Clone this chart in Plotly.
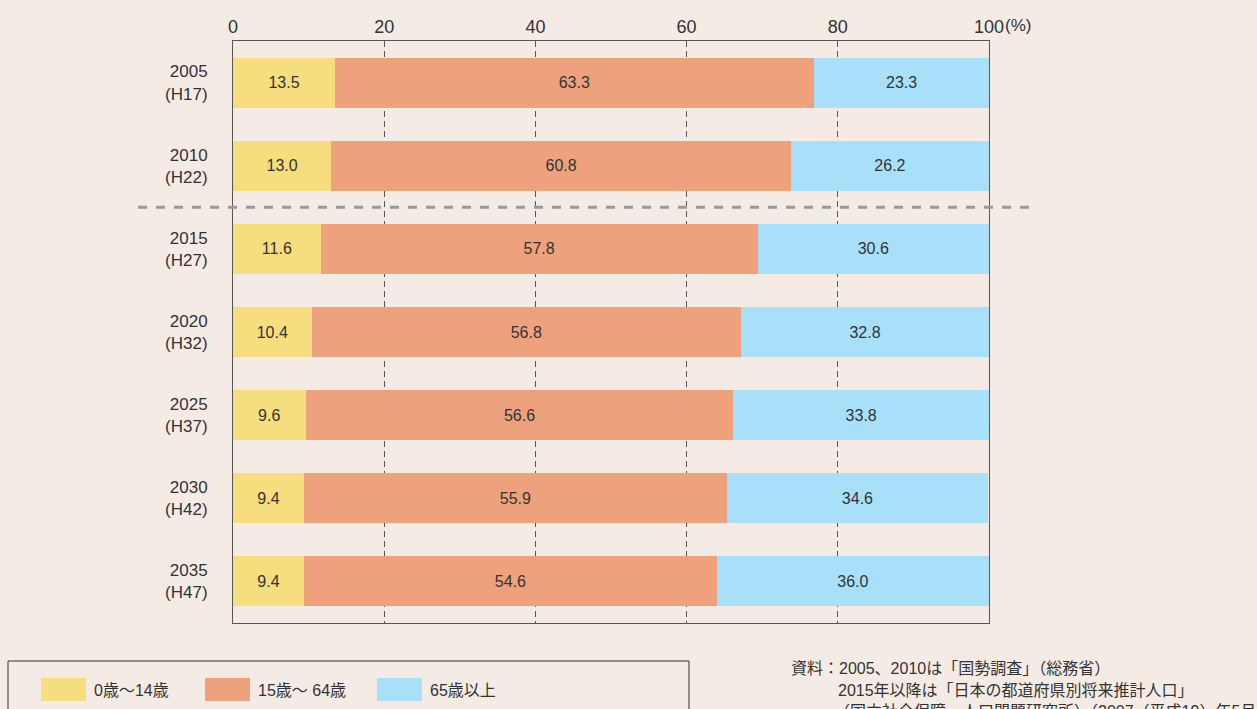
import plotly.graph_objects as go

categories = ["2005<br>(H17)", "2010<br>(H22)", "2015<br>(H27)", "2020<br>(H32)",
              "2025<br>(H37)", "2030<br>(H42)", "2035<br>(H47)"]
age_0_14 = [13.5, 13.0, 11.6, 10.4, 9.6, 9.4, 9.4]
age_15_64 = [63.3, 60.8, 57.8, 56.8, 56.6, 55.9, 54.6]
age_65_plus = [23.3, 26.2, 30.6, 32.8, 33.8, 34.6, 36.0]
series_names = ["0歳～14歳", "15歳～ 64歳", "65歳以上"]
series_colors = ["#F6DD7E", "#EDA27D", "#A8E0FA"]
x_ticks = [0, 20, 40, 60, 80, 100]
source_lines = ["資料：2005、2010は「国勢調査」（総務省）",
                "2015年以降は「日本の都道府県別将来推計人口」",
                "（国立社会保障・人口問題研究所）（2007（平成19）年5月）"]

FONT = "Liberation Sans, Noto Sans CJK JP, sans-serif"
BG = "#F4EBE5"
TXT = "#333333"

W, H = 1257, 709
L, R, T, B = 233, 268, 41, 86
PW, PH = W - L - R, H - T - B


def px(x):
    return (x - L) / PW


def py(y):
    return (H - B - y) / PH


fig = go.Figure()
for name, vals, col in zip(series_names, [age_0_14, age_15_64, age_65_plus], series_colors):
    fig.add_trace(go.Bar(
        y=categories, x=vals, name=name, orientation="h",
        marker=dict(color=col, line=dict(width=0)),
        text=[f"{v:.1f}" for v in vals], textposition="inside",
        insidetextanchor="middle", textangle=0,
        textfont=dict(family=FONT, size=16, color=TXT),
        showlegend=False,
    ))

fig.update_layout(
    width=W, height=H, barmode="stack", bargap=0.4,
    paper_bgcolor=BG, plot_bgcolor=BG,
    margin=dict(l=L, r=R, t=T, b=B),
    font=dict(family=FONT, size=16, color=TXT),
    xaxis=dict(side="top", range=[0, 100], tickvals=x_ticks,
               ticktext=[str(v) for v in x_ticks],
               showgrid=True, gridcolor="#555555", gridwidth=1, griddash="6px,4px",
               zeroline=False, showline=True, linecolor="#555555", linewidth=1,
               mirror=True, ticks="", tickfont=dict(size=18, color=TXT)),
    yaxis=dict(autorange=False, range=[6.5, -0.5], type="category",
               showgrid=False, zeroline=False, showline=True, linecolor="#555555",
               linewidth=1, mirror=True, ticks="", ticklabelstandoff=21,
               tickfont=dict(size=17, color=TXT)),
)

# separator between actual and projected values
fig.add_shape(type="line", xref="paper", yref="y", x0=px(138), x1=px(1038),
              y0=1.5, y1=1.5, line=dict(color="#999999", width=3, dash="dash"))

# unit label
fig.add_annotation(xref="paper", yref="paper", x=px(1003), y=py(25), text="(%)",
                   showarrow=False, xanchor="left", yanchor="middle",
                   font=dict(size=17, color=TXT))

# custom legend box
fig.add_shape(type="rect", xref="paper", yref="paper", x0=px(8), x1=px(689),
              y0=py(661), y1=py(740), line=dict(color="#333333", width=1),
              fillcolor="rgba(0,0,0,0)")
sw_x = [41, 205, 377]
for xs, name, col in zip(sw_x, series_names, series_colors):
    fig.add_shape(type="rect", xref="paper", yref="paper", x0=px(xs), x1=px(xs + 45),
                  y0=py(701), y1=py(678), line=dict(width=0), fillcolor=col)
    fig.add_annotation(xref="paper", yref="paper", x=px(xs + 51), y=py(690), text=name,
                       showarrow=False, xanchor="left", yanchor="middle",
                       font=dict(size=16, color=TXT))

# source note
src_pos = [(789, 668), (836, 690), (832, 711)]
for (sx, sy), line in zip(src_pos, source_lines):
    fig.add_annotation(xref="paper", yref="paper", x=px(sx), y=py(sy), text=line,
                       showarrow=False, xanchor="left", yanchor="middle",
                       font=dict(size=16, color=TXT))

fig.write_html("out.html")
